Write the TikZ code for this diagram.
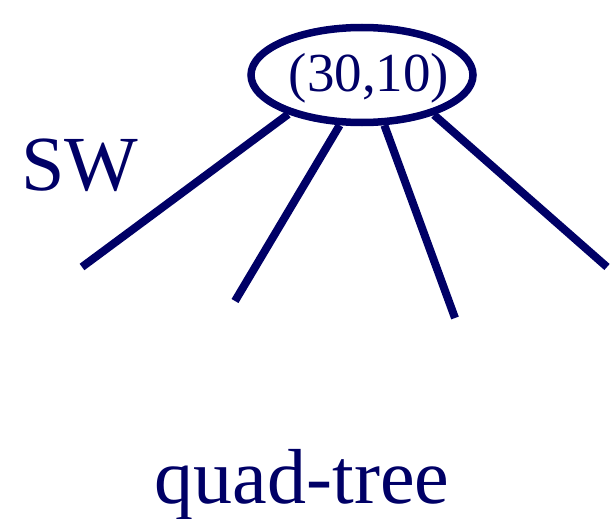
\documentclass[tikz,border=0pt]{standalone}
\usepackage{fontspec}
\setmainfont{Liberation Serif}
\newfontfamily\tnr{Liberation Serif}
\usetikzlibrary{shapes.geometric}
\definecolor{navy}{HTML}{000066}
\tikzset{
  edge/.style={draw=navy, line width=8pt},
  lbl/.style={text=navy, inner sep=0pt, anchor=base, font=\tnr}
}
\begin{document}
\begin{tikzpicture}[x=1pt,y=-1pt]
\useasboundingbox (0,0) rectangle (616,519);
\node[ellipse, draw=navy, line width=7.5pt, minimum width=222pt, minimum height=95pt, inner sep=0pt] (root) at (362,75) {};
\node[lbl] (val) at (369,92) {\fontsize{55}{60}\selectfont (30,10)};
\node[lbl] (sw) at (80,190) {\fontsize{78}{84}\selectfont SW};
\node[lbl] (qt) at (302,503) {\fontsize{78}{84}\selectfont quad-tree};
\coordinate (c1) at (82,267);
\coordinate (c2) at (235,301);
\coordinate (c3) at (455,318);
\coordinate (c4) at (607,267);
\draw[edge] (root.208.6) -- (c1);
\draw[edge] (root.246.7) -- (c2);
\draw[edge] (root.294) -- (c3);
\draw[edge] (root.331) -- (c4);
\end{tikzpicture}
\end{document}
